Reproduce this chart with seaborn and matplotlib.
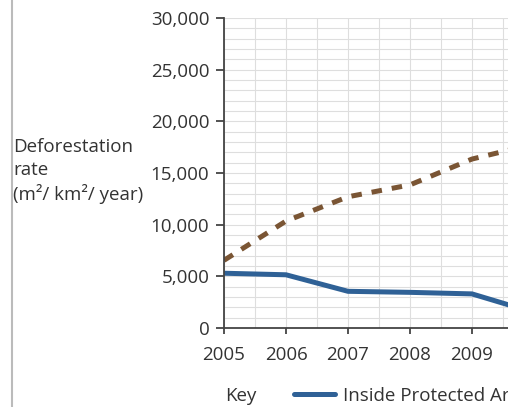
import pandas as pd
import matplotlib.pyplot as plt
import seaborn as sns
from matplotlib.ticker import MultipleLocator, FuncFormatter
from matplotlib.lines import Line2D

years = [2005, 2006, 2007, 2008, 2009, 2010]
inside = [5300, 5150, 3550, 3450, 3300, 1500]
outside = [6550, 10350, 12700, 13850, 16350, 17800]
labels = ['Inside Protected Areas', 'Outside Protected Areas']


def build_df():
    df_in = pd.DataFrame({'year': years, 'rate': inside, 'area': labels[0]})
    df_out = pd.DataFrame({'year': years, 'rate': outside, 'area': labels[1]})
    return pd.concat([df_in, df_out])


def plot(df: pd.DataFrame):
    sns.set_style('white')
    plt.rcParams['font.family'] = ['Open Sans', 'DejaVu Sans']
    fig = plt.figure(figsize=(5.08, 4.07), dpi=100)
    ax = fig.add_axes([224 / 508, 1 - 328 / 407, 310 / 508, 310 / 407])

    palette = {labels[0]: '#2f6196', labels[1]: '#7a5534'}
    dashes = {labels[0]: '', labels[1]: (2.1, 2.0)}
    sns.lineplot(data=df, x='year', y='rate', hue='area', style='area',
                 palette=palette, dashes=dashes, linewidth=3.6, ax=ax,
                 legend=False)

    ax.set_xlim(2005, 2010)
    ax.set_ylim(0, 30000)
    ax.xaxis.set_major_locator(MultipleLocator(1))
    ax.xaxis.set_minor_locator(MultipleLocator(0.5))
    ax.yaxis.set_major_locator(MultipleLocator(5000))
    ax.yaxis.set_minor_locator(MultipleLocator(1000))
    ax.xaxis.set_major_formatter(FuncFormatter(lambda v, p: f'{int(v)}'))
    ax.yaxis.set_major_formatter(FuncFormatter(lambda v, p: f'{int(v):,}'))
    ax.grid(which='both', color='#dedede', linewidth=0.8)
    ax.set_axisbelow(True)
    for s in ['top', 'right']:
        ax.spines[s].set_visible(False)
    for s in ['left', 'bottom']:
        ax.spines[s].set_color('#444444')
        ax.spines[s].set_linewidth(1.3)
    ax.tick_params(which='major', direction='out', width=1.3,
                   color='#444444', labelsize=13.5, labelcolor='#333333',
                   left=True, bottom=True)
    ax.tick_params(axis='y', which='major', length=6, pad=4.5)
    ax.tick_params(axis='x', which='major', length=4.5, pad=8.5)
    ax.tick_params(which='minor', length=0)
    ax.set_xlabel('')
    ax.set_ylabel('')

    fig.text(13 / 508, 1 - 171 / 407,
             'Deforestation\nrate\n(m\u00b2/ km\u00b2/ year)',
             fontsize=13.5, color='#333333', ha='left', va='center',
             linespacing=1.3)
    fig.text(225 / 508, 1 - 396 / 407, 'Key', fontsize=13.5,
             color='#333333', ha='left', va='center')

    handles = [Line2D([], [], color=palette[labels[0]], linewidth=3.6),
               Line2D([], [], color=palette[labels[1]], linewidth=3.6,
                      dashes=dashes[labels[1]])]
    fig.legend(handles, labels, loc='center left',
               bbox_to_anchor=(277 / 508, 1 - 396 / 407), ncol=2,
               frameon=False, fontsize=13.5, handlelength=2.2,
               handletextpad=0.4, columnspacing=2, labelcolor='#333333')

    fig.add_artist(Line2D([12 / 508, 12 / 508], [0, 1], color='#bbbbbb',
                          linewidth=1.5, transform=fig.transFigure))
    fig.savefig('out.png', dpi=100)


if __name__ == '__main__':
    plot(build_df())
